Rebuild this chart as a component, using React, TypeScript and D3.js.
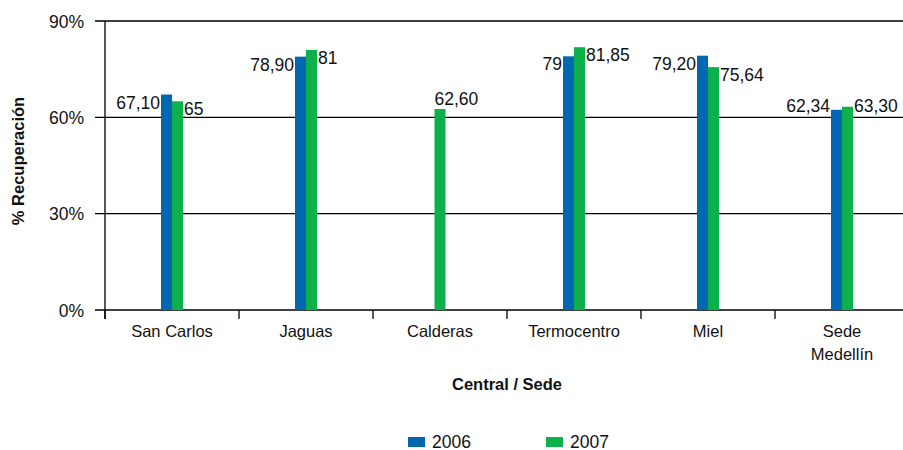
import React from "react";
import * as d3 from "d3";

const categories: string[][] = [["San Carlos"], ["Jaguas"], ["Calderas"], ["Termocentro"], ["Miel"], ["Sede", "Medellín"]];
const series2006: (number | null)[] = [67.1, 78.9, null, 79, 79.2, 62.34];
const series2007: (number | null)[] = [65, 81, 62.6, 81.85, 75.64, 63.3];
const seriesNames = ["2006", "2007"];
const seriesColors = ["#0067B1", "#0DB14B"];
const yTicks = [0, 30, 60, 90];

const W = 903;
const H = 450;
const FONT = "'Liberation Sans', Arial, sans-serif";

function fmt(v: number): string {
  if (Number.isInteger(v)) return String(v);
  return v.toFixed(2).replace(".", ",");
}

export default function App() {
  const x = d3.scaleBand<number>().domain(d3.range(categories.length)).range([105, 909]).paddingInner(0).paddingOuter(0);
  const y = d3.scaleLinear().domain([0, 90]).range([310, 21]);
  const barW = 11;
  const gridYs = yTicks.map((t) => y(t));

  const labelBaseline = (top: number) => {
    let b = top + 14;
    for (const g of gridYs) {
      if (b >= g - 1 && b - 13 < g) b = g - 5;
    }
    return b;
  };

  const bars: React.ReactNode[] = [];
  categories.forEach((_, i) => {
    const cx = (x(i) as number) + x.bandwidth() / 2;
    const vals = [series2006[i], series2007[i]];
    const present = vals.map((v, k) => ({ v, k })).filter((d) => d.v != null) as { v: number; k: number }[];
    if (present.length === 1) {
      const { v, k } = present[0];
      const left = cx - barW / 2;
      const top = y(v);
      bars.push(<rect key={`b${i}${k}`} x={left} y={top} width={barW} height={310 - top} fill={seriesColors[k]} />);
      bars.push(
        <text key={`t${i}${k}`} x={left} y={top - 4} fontSize={17.5} fontFamily={FONT} fill="#111">
          {fmt(v)}
        </text>
      );
    } else {
      present.forEach(({ v, k }) => {
        const left = k === 0 ? cx - barW : cx;
        const top = y(v);
        bars.push(<rect key={`b${i}${k}`} x={left} y={top} width={barW} height={310 - top} fill={seriesColors[k]} />);
        bars.push(
          <text
            key={`t${i}${k}`}
            x={k === 0 ? left - 1 : left + barW + 1}
            y={labelBaseline(top)}
            textAnchor={k === 0 ? "end" : "start"}
            fontSize={17.5}
            fontFamily={FONT}
            fill="#111"
          >
            {fmt(v)}
          </text>
        );
      });
    }
  });

  return (
    <svg width={W} height={H} style={{ position: "absolute", left: 0, top: 0, background: "#fff" }}>
      {yTicks.map((t) => (
        <g key={t}>
          <line x1={95} x2={W} y1={y(t)} y2={y(t)} stroke="#000" strokeWidth={1.3} />
          <text x={84} y={y(t) + 6.5} textAnchor="end" fontSize={17.5} fontFamily={FONT} fill="#111">
            {t}%
          </text>
        </g>
      ))}
      <line x1={105} x2={105} y1={y(90)} y2={319} stroke="#000" strokeWidth={1.3} />
      {categories.map((_, i) => (
        <line key={`tk${i}`} x1={x(i) as number} x2={x(i) as number} y1={310} y2={319} stroke="#000" strokeWidth={1.3} />
      ))}
      {bars}
      {categories.map((lines, i) => (
        <text key={`c${i}`} textAnchor="middle" fontSize={16.5} fontFamily={FONT} fill="#111">
          {lines.map((l, j) => (
            <tspan key={j} x={(x(i) as number) + x.bandwidth() / 2} y={337 + j * 23}>
              {l}
            </tspan>
          ))}
        </text>
      ))}
      <text x={507} y={390} textAnchor="middle" fontSize={16.5} fontWeight="bold" fontFamily={FONT} fill="#111">
        Central / Sede
      </text>
      <text
        transform={`translate(24,161) rotate(-90)`}
        textAnchor="middle"
        fontSize={16.5}
        fontWeight="bold"
        fontFamily={FONT}
        fill="#111"
      >
        % Recuperación
      </text>
      {seriesNames.map((n, k) => (
        <g key={n} transform={`translate(${408 + k * 138},0)`}>
          <rect x={0} y={437} width={17} height={10} fill={seriesColors[k]} />
          <text x={24} y={447.5} fontSize={17.5} fontFamily={FONT} fill="#111">
            {n}
          </text>
        </g>
      ))}
    </svg>
  );
}
